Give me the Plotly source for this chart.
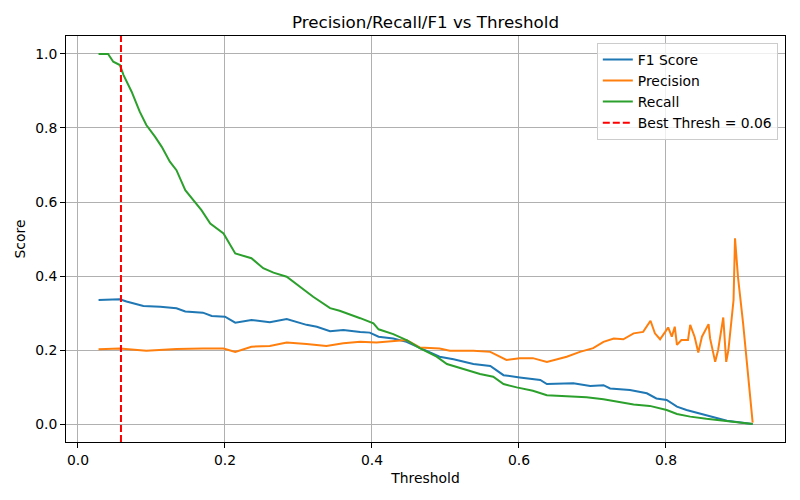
import plotly.graph_objects as go

# Recall (green)
rec_t = [0.028, 0.041, 0.048, 0.057, 0.062, 0.073, 0.084, 0.093, 0.105, 0.114, 0.125, 0.134,
         0.146, 0.157, 0.168, 0.180, 0.198, 0.214, 0.236, 0.252, 0.266, 0.284, 0.302, 0.320,
         0.343, 0.356, 0.384, 0.402, 0.409, 0.429, 0.447, 0.465, 0.488, 0.502, 0.529, 0.547,
         0.565, 0.579, 0.597, 0.619, 0.638, 0.674, 0.692, 0.715, 0.737, 0.756, 0.778, 0.801,
         0.815, 0.833, 0.855, 0.878, 0.918]
rec_v = [1.000, 1.000, 0.979, 0.970, 0.943, 0.898, 0.844, 0.808, 0.776, 0.749, 0.709, 0.686,
         0.632, 0.605, 0.578, 0.542, 0.515, 0.461, 0.448, 0.421, 0.409, 0.398, 0.371, 0.344,
         0.313, 0.306, 0.286, 0.272, 0.256, 0.243, 0.227, 0.205, 0.182, 0.162, 0.146, 0.135,
         0.128, 0.108, 0.099, 0.090, 0.078, 0.074, 0.072, 0.067, 0.060, 0.053, 0.049, 0.038,
         0.027, 0.020, 0.014, 0.009, 0.000]

# F1 score (blue)
f1_t = [0.028, 0.057, 0.066, 0.089, 0.112, 0.134, 0.146, 0.170, 0.182, 0.200, 0.214, 0.236,
        0.261, 0.284, 0.311, 0.325, 0.343, 0.361, 0.384, 0.397, 0.409, 0.429, 0.447, 0.470,
        0.492, 0.511, 0.538, 0.561, 0.579, 0.601, 0.629, 0.638, 0.674, 0.697, 0.715, 0.724,
        0.751, 0.774, 0.787, 0.801, 0.815, 0.828, 0.846, 0.864, 0.883, 0.918]
f1_v = [0.335, 0.337, 0.331, 0.319, 0.317, 0.313, 0.304, 0.301, 0.292, 0.290, 0.274, 0.281,
        0.275, 0.284, 0.268, 0.263, 0.251, 0.254, 0.249, 0.247, 0.236, 0.231, 0.222, 0.202,
        0.182, 0.175, 0.162, 0.157, 0.132, 0.126, 0.119, 0.108, 0.110, 0.103, 0.105, 0.096,
        0.092, 0.083, 0.069, 0.065, 0.047, 0.038, 0.029, 0.018, 0.009, 0.000]

# Precision (orange)
pre_t = [0.028, 0.057, 0.093, 0.134, 0.170, 0.198, 0.214, 0.236, 0.261, 0.284, 0.311, 0.338,
         0.361, 0.384, 0.406, 0.447, 0.465, 0.492, 0.506, 0.538, 0.561, 0.583, 0.601, 0.619,
         0.638, 0.665, 0.683, 0.701, 0.715, 0.729, 0.742, 0.756, 0.769, 0.779, 0.785, 0.792,
         0.799, 0.803, 0.808, 0.812, 0.815, 0.821, 0.830, 0.833, 0.839, 0.844, 0.849, 0.858,
         0.860, 0.867, 0.871, 0.878, 0.882, 0.885, 0.892, 0.894, 0.898, 0.905, 0.918]
pre_v = [0.202, 0.204, 0.198, 0.203, 0.204, 0.204, 0.195, 0.209, 0.211, 0.220, 0.216, 0.211,
         0.218, 0.222, 0.220, 0.227, 0.207, 0.204, 0.198, 0.198, 0.195, 0.173, 0.178, 0.178,
         0.168, 0.182, 0.195, 0.205, 0.222, 0.231, 0.229, 0.245, 0.249, 0.279, 0.245, 0.229,
         0.249, 0.261, 0.236, 0.263, 0.214, 0.227, 0.227, 0.268, 0.236, 0.193, 0.236, 0.270,
         0.232, 0.168, 0.200, 0.288, 0.168, 0.200, 0.335, 0.502, 0.398, 0.272, 0.004]

best_thresh = 0.0585

FONT = "DejaVu Sans"
TICK = 13.9

fig = go.Figure()
fig.add_trace(go.Scatter(x=f1_t, y=f1_v, mode="lines", name="F1 Score",
                         line=dict(color="#1f77b4", width=2)))
fig.add_trace(go.Scatter(x=pre_t, y=pre_v, mode="lines", name="Precision",
                         line=dict(color="#ff7f0e", width=2)))
fig.add_trace(go.Scatter(x=rec_t, y=rec_v, mode="lines", name="Recall",
                         line=dict(color="#2ca02c", width=2)))
fig.add_trace(go.Scatter(x=[None], y=[None], mode="lines",
                         name=f"Best Thresh = {best_thresh:.2f}",
                         line=dict(color="red", width=2, dash="7px,3px")))
fig.add_vline(x=best_thresh, line=dict(color="red", width=2, dash="7px,3px"))

axis_common = dict(
    showline=True, linecolor="black", linewidth=1, mirror=True,
    ticks="outside", ticklen=5, tickcolor="black", tickwidth=1,
    showgrid=True, gridcolor="#b0b0b0", gridwidth=1, zeroline=False,
    tickfont=dict(family=FONT, size=TICK, color="black"),
    tickformat=".1f", automargin=False,
)

# page body has an 8px margin, so the figure is sized 792x492 and offset accordingly
W, H = 792, 492

fig.update_layout(
    width=W, height=H,
    paper_bgcolor="white", plot_bgcolor="white",
    margin=dict(l=58, r=15, t=28, b=58, autoexpand=False),
    title=dict(text="Precision/Recall/F1 vs Threshold", xref="paper", x=0.5, xanchor="center",
               y=1 - 14 / H, yanchor="middle",
               font=dict(family=FONT, size=16.7, color="black")),
    xaxis=dict(range=[-0.0163, 0.962], dtick=0.2, tick0=0,
               title=dict(text="Threshold", font=dict(family=FONT, size=TICK, color="black"),
                          standoff=6),
               **axis_common),
    yaxis=dict(range=[-0.0486, 1.0486], dtick=0.2, tick0=0,
               title=dict(text="Score", font=dict(family=FONT, size=TICK, color="black"),
                          standoff=6),
               **axis_common),
    legend=dict(x=0.99, xanchor="right", y=0.983, yanchor="top",
                bgcolor="rgba(255,255,255,0.8)", bordercolor="#cccccc", borderwidth=1,
                font=dict(family=FONT, size=TICK, color="black"),
                tracegroupgap=0, itemwidth=30),
    showlegend=True,
)

fig.write_html("out.html")
